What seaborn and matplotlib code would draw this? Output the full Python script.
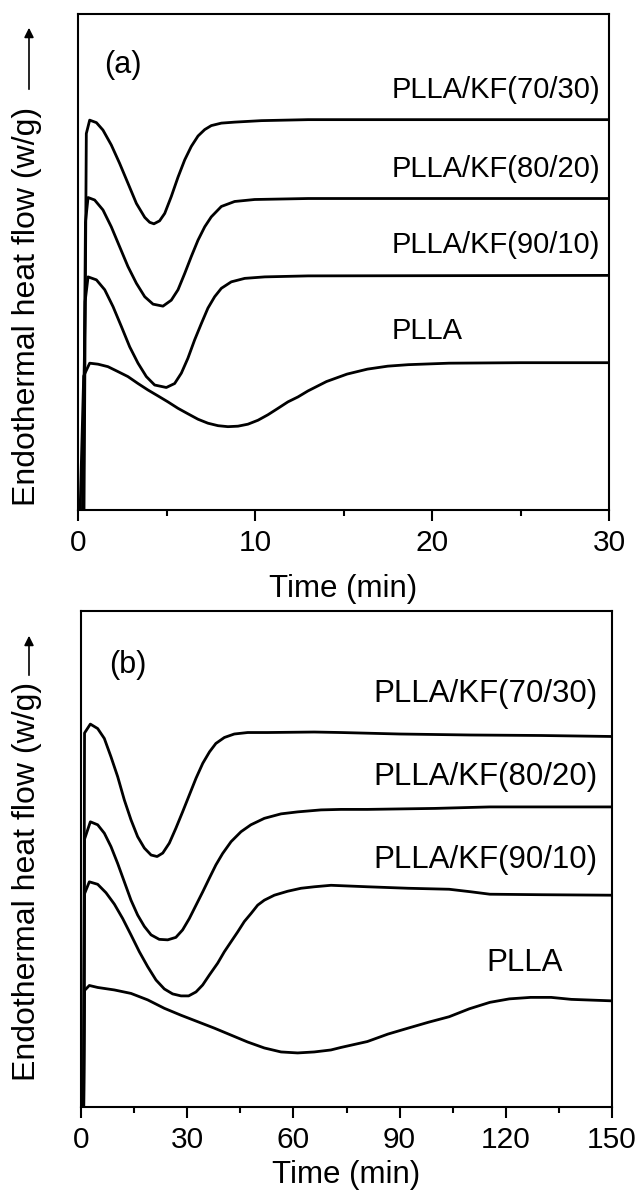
import matplotlib
matplotlib.use("Agg")
import matplotlib.pyplot as plt
from matplotlib.ticker import MultipleLocator
import seaborn as sns
import pandas as pd

# ---------------- data: panel (a), time in min, heat flow in arbitrary units ----------------
t_a_7030 = [0.34, 0.47, 0.66, 1.04, 1.41, 1.88, 2.35, 2.82, 3.30, 3.77, 4.05, 4.29, 4.61, 4.90, 5.27, 5.65,
            6.03, 6.40, 6.78, 7.16, 7.53, 8.10, 8.85, 10.36, 13.0, 30]
y_a_7030 = [0, 75.9, 78.6, 78.1, 76.6, 73.6, 69.9, 65.9, 61.8, 59.0, 58.0, 57.7, 58.3, 59.8, 63.2, 67.1,
            70.6, 73.3, 75.4, 76.7, 77.5, 78.0, 78.2, 78.5, 78.7, 78.7]

t_a_8020 = [0.30, 0.42, 0.57, 0.94, 1.41, 1.88, 2.35, 2.82, 3.30, 3.77, 4.24, 4.80, 5.27, 5.65, 6.03, 6.40,
            6.78, 7.16, 7.53, 8.10, 8.85, 9.98, 13.0, 30]
y_a_8020 = [0, 58.0, 63.0, 62.5, 60.5, 57.1, 53.1, 49.1, 45.7, 43.0, 41.5, 41.1, 42.3, 44.4, 47.7, 51.1,
            54.4, 57.1, 59.1, 61.2, 62.2, 62.6, 62.8, 62.8]

t_a_9010 = [0.25, 0.40, 0.57, 1.04, 1.51, 1.98, 2.45, 2.92, 3.39, 3.86, 4.33, 4.99, 5.46, 5.84, 6.21, 6.59,
            6.97, 7.34, 7.72, 8.10, 8.66, 9.42, 10.55, 13.0, 30]
y_a_9010 = [0, 42.0, 47.0, 46.4, 44.4, 41.0, 37.0, 32.9, 29.6, 26.9, 25.2, 24.7, 25.5, 27.6, 30.6, 34.3,
            37.6, 40.7, 43.0, 44.7, 46.0, 46.7, 47.0, 47.2, 47.3]

t_a_plla = [0.12, 0.32, 0.66, 1.13, 1.69, 2.26, 2.82, 3.39, 3.95, 4.52, 5.08, 5.65, 6.21, 6.78, 7.34, 7.91,
            8.47, 9.04, 9.60, 10.17, 10.73, 11.30, 11.86, 12.43, 12.99, 14.04, 15.2, 16.35, 17.5, 18.66,
            20.96, 25, 30]
y_a_plla = [0, 27.0, 29.6, 29.4, 28.9, 27.9, 26.9, 25.5, 24.2, 23.0, 21.8, 20.5, 19.4, 18.3, 17.5, 17.0,
            16.8, 16.9, 17.3, 18.1, 19.2, 20.5, 21.8, 22.8, 24.0, 25.9, 27.4, 28.4, 29.0, 29.3,
            29.6, 29.7, 29.7]

# ---------------- data: panel (b) ----------------
t_b_7030 = [0.75, 1.0, 2.64, 4.71, 6.59, 8.47, 10.36, 12.24, 14.12, 16.0, 17.9, 19.8, 21.5, 23.1, 24.95, 26.8,
            28.7, 30.6, 32.5, 34.4, 36.3, 38.1, 40.5, 43.3, 47.1, 52.7, 65.9, 73.4, 90, 110, 130, 150]
y_b_7030 = [0, 75.4, 77.2, 76.3, 74.3, 70.6, 66.6, 61.9, 57.9, 54.5, 52.2, 50.8, 50.5, 51.2, 53.2, 56.2,
            59.5, 62.9, 66.3, 69.3, 71.6, 73.3, 74.5, 75.2, 75.5, 75.5, 75.6, 75.5, 75.2, 75.0, 74.9, 74.7]

t_b_8020 = [0.75, 1.0, 2.64, 4.71, 6.59, 8.47, 10.36, 12.24, 14.12, 16.0, 17.9, 19.8, 22.1, 24.5, 26.8, 28.7,
            30.6, 32.5, 34.4, 36.3, 38.1, 40.0, 42.4, 45.2, 48.0, 51.8, 56.5, 61.2, 67.8, 73.4, 80.9, 100, 115.5, 150]
y_b_8020 = [0, 54.0, 57.5, 56.9, 55.2, 52.5, 49.1, 45.4, 41.7, 38.7, 36.4, 34.7, 33.8, 33.7, 34.2, 35.7,
            38.0, 40.7, 43.4, 46.2, 48.8, 51.1, 53.5, 55.5, 56.9, 58.2, 59.1, 59.5, 59.9, 60.0, 60.0, 60.2, 60.5, 60.5]

t_b_9010 = [0.75, 1.0, 2.35, 4.71, 7.06, 9.42, 11.77, 14.12, 16.48, 18.83, 21.19, 23.54, 25.89, 28.25, 30.41,
            32.49, 34.37, 36.25, 38.61, 40.49, 42.37, 44.26, 46.14, 48.02, 49.91, 51.79, 54.61, 58.38, 62.15,
            65.91, 70.62, 80.9, 92.4, 104, 110, 115.5, 130, 150]
y_b_9010 = [0, 43.0, 45.4, 44.9, 43.2, 40.9, 38.0, 34.7, 31.3, 28.3, 25.6, 23.8, 22.8, 22.4, 22.4,
            23.2, 24.6, 26.6, 29.0, 31.3, 33.3, 35.3, 37.4, 39.0, 40.7, 41.7, 42.7, 43.5, 44.1,
            44.4, 44.7, 44.4, 44.1, 43.9, 43.4, 42.9, 42.8, 42.7]

t_b_plla = [0.75, 1.0, 2.35, 4.71, 9.42, 14.12, 18.83, 23.54, 28.25, 32.96, 37.66, 42.37, 47.08, 51.79, 56.5,
            61.2, 65.9, 70.6, 73.4, 80.9, 86.7, 92.4, 98.2, 104, 109.7, 115.5, 121, 127, 132.8, 138.5, 150]
y_b_plla = [0, 23.5, 24.5, 24.1, 23.6, 22.9, 21.6, 19.9, 18.5, 17.2, 15.9, 14.5, 13.1, 11.9, 11.1,
            10.9, 11.1, 11.5, 12.0, 13.2, 14.7, 15.9, 17.1, 18.2, 19.8, 21.1, 21.8, 22.1, 22.1, 21.7, 21.4]

names = ["PLLA/KF(70/30)", "PLLA/KF(80/20)", "PLLA/KF(90/10)", "PLLA"]

# label positions (data coords)
lab_a_x = [17.7, 17.7, 17.7, 17.7]
lab_a_y = [84.7, 68.8, 53.4, 36.1]
lab_b_x = [82.5, 82.5, 82.5, 114.4]
lab_b_y = [83.3, 66.5, 49.8, 29.0]

sns.set_style("ticks", rc={"axes.edgecolor": "black", "text.color": "black",
                           "axes.labelcolor": "black", "xtick.color": "black", "ytick.color": "black"})
plt.rcParams["font.family"] = ["Liberation Sans", "DejaVu Sans"]

W, H = 640, 1193
fig = plt.figure(figsize=(W / 100, H / 100), dpi=100)

def make_df(ts, ys):
    rows = []
    for n, t, y in zip(names, ts, ys):
        for a, b in zip(t, y):
            rows.append((n, a, b))
    return pd.DataFrame(rows, columns=["series", "time", "flow"])

df_a = make_df([t_a_7030, t_a_8020, t_a_9010, t_a_plla], [y_a_7030, y_a_8020, y_a_9010, y_a_plla])
df_b = make_df([t_b_7030, t_b_8020, t_b_9010, t_b_plla], [y_b_7030, y_b_8020, y_b_9010, y_b_plla])

def px_axes(left, top, right, bottom):
    return [left / W, 1 - bottom / H, (right - left) / W, (bottom - top) / H]

ax_a = fig.add_axes(px_axes(78, 14, 609, 510))
ax_b = fig.add_axes(px_axes(81, 611, 612, 1107))

panels = [
    (ax_a, df_a, 30, 10, 5, lab_a_x, lab_a_y, 21, "(a)", 2.54, 89.7, -0.096, 0.41, (29, 92, 25), 12),
    (ax_b, df_b, 150, 30, 15, lab_b_x, lab_b_y, 22.5, "(b)", 13.3, 89.1, -0.102, 0.454, (29, 678, 633), 4),
]

for ax, df, xmax, maj, mnr, lx, ly, fs, tag, tx, ty, ylx, yly, arr, lpad in panels:
    sns.lineplot(data=df, x="time", y="flow", units="series", estimator=None,
                 sort=False, color="black", linewidth=2.0, ax=ax, legend=False)
    ax.set_xlim(0, xmax)
    ax.set_ylim(0, 100)
    ax.xaxis.set_major_locator(MultipleLocator(maj))
    ax.xaxis.set_minor_locator(MultipleLocator(mnr))
    ax.set_yticks([])
    ax.tick_params(axis="x", which="major", length=8, width=1.5, labelsize=21.5, pad=6, direction="out")
    ax.tick_params(axis="x", which="minor", length=4, width=1.5, direction="out")
    for s in ax.spines.values():
        s.set_linewidth(1.5)
        s.set_visible(True)
    ax.set_xlabel("Time (min)", fontsize=22.5, labelpad=lpad)
    ax.set_ylabel("Endothermal heat flow (w/g)", fontsize=23)
    ax.yaxis.label.set(rotation_mode="default", va="center", ha="center")
    ax.yaxis.set_label_coords(ylx, yly)
    for n, x, y in zip(names, lx, ly):
        ax.text(x, y, n, fontsize=fs, ha="left", va="center")
    ax.text(tx, ty, tag, fontsize=22, ha="center", va="center")
    ax_x, y0, y1 = arr
    fig.add_artist(matplotlib.patches.FancyArrowPatch(
        (ax_x / W, 1 - y0 / H), (ax_x / W, 1 - y1 / H), transform=fig.transFigure,
        arrowstyle="-|>", mutation_scale=14, lw=1.2, color="black"))

fig.savefig("out.png", dpi=100)
